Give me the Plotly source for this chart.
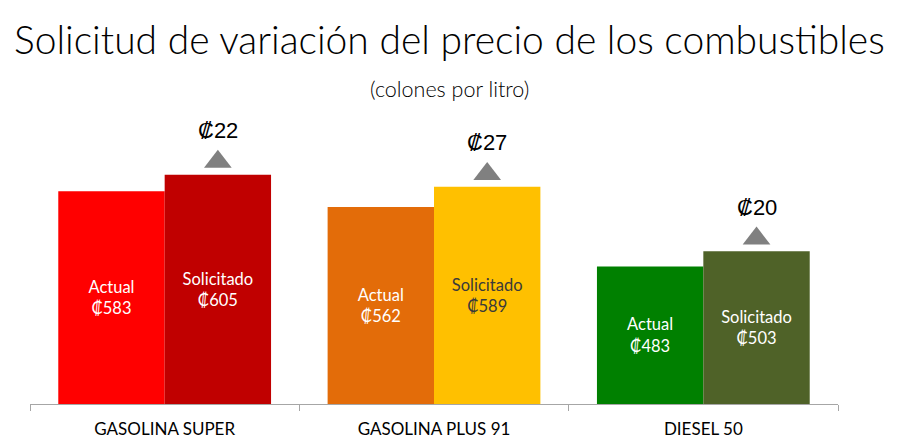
import plotly.graph_objects as go

# precios en colones por litro
categorias = ["GASOLINA SUPER", "GASOLINA PLUS 91", "DIESEL 50"]
actual = [583, 562, 483]
solicitado = [605, 589, 503]

colores_actual = ["#FF0000", "#E36C09", "#008000"]
colores_solicitado = ["#C00000", "#FFC000", "#4F6228"]
texto_solicitado = ["#FFFFFF", "#3A3A3A", "#FFFFFF"]

BASE = 300  # el eje vertical arranca en 300
BARGAP = 0.21
diferencia = [s - a for a, s in zip(actual, solicitado)]
# centro de la barra "Solicitado" en un eje numerico paralelo
pos_sol = [i + (1 - BARGAP) / 4 for i in range(len(categorias))]

W, H = 894, 435
M_L, M_R, M_T, M_B = 22, 64, 102, 39
alto_plot = H - M_T - M_B
ancho_plot = W - M_L - M_R


def y_papel(px):
    # pixel desde arriba -> coordenada paper
    return 1 + (M_T - px) / alto_plot


def x_papel(px):
    return (px - M_L) / ancho_plot


fig = go.Figure()

fig.add_trace(go.Bar(
    x=categorias, y=[a - BASE for a in actual], base=BASE,
    customdata=actual, name="Actual",
    marker=dict(color=colores_actual, line=dict(width=0)),
    texttemplate="Actual<br>₡%{customdata}", textposition="inside",
    insidetextanchor="middle",
    textfont=dict(family="Lato", size=16.5, color="white"),
))
fig.add_trace(go.Bar(
    x=categorias, y=[s - BASE for s in solicitado], base=BASE,
    customdata=solicitado, name="Solicitado",
    marker=dict(color=colores_solicitado, line=dict(width=0)),
    texttemplate="Solicitado<br>₡%{customdata}", textposition="inside",
    insidetextanchor="middle",
    textfont=dict(family="Lato", size=16.5, color=texto_solicitado),
))

# triangulos grises sobre la barra solicitada
fig.add_trace(go.Scatter(
    x=pos_sol, y=[s + 17 for s in solicitado], xaxis="x2",
    mode="markers",
    marker=dict(symbol="triangle-up", size=24, color="#808080"),
    hoverinfo="skip",
))

for xp, s, d in zip(pos_sol, solicitado, diferencia):
    fig.add_annotation(
        x=xp, y=s, xref="x2", yref="y", yshift=44,
        text=f"₡{d}", showarrow=False,
        font=dict(family="Liberation Sans", size=22, color="#000000"),
    )

fig.add_annotation(
    x=x_papel(441), y=y_papel(31), xref="paper", yref="paper",
    xanchor="center", yanchor="middle",
    text="Solicitud de variación del precio de los combustibles",
    showarrow=False,
    font=dict(family="Lato", size=39, color="#000000", weight=300),
)
fig.add_annotation(
    x=x_papel(441), y=y_papel(81), xref="paper", yref="paper",
    xanchor="center", yanchor="middle",
    text="(colones por litro)", showarrow=False,
    font=dict(family="Lato", size=21.5, color="#000000", weight=300),
)

fig.update_layout(
    width=W, height=H,
    margin=dict(l=M_L, r=M_R, t=M_T, b=M_B),
    paper_bgcolor="white", plot_bgcolor="white",
    showlegend=False,
    barmode="group", bargap=BARGAP, bargroupgap=0,
    xaxis=dict(
        showline=True, linecolor="#A6A6A6", linewidth=1,
        ticks="outside", tickson="boundaries", ticklen=6, tickcolor="#A6A6A6",
        ticklabelstandoff=10,
        tickfont=dict(family="Lato", size=17, color="#000000"),
        showgrid=False, automargin=False,
    ),
    xaxis2=dict(overlaying="x", range=[-0.5, 2.5], visible=False),
    yaxis=dict(range=[BASE, BASE + alto_plot / 0.752], visible=False,
               showgrid=False),
)

fig.write_html("out.html")
